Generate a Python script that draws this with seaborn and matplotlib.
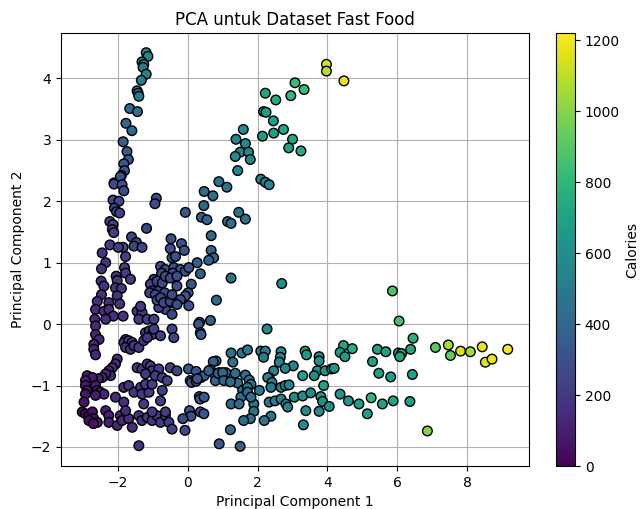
import matplotlib
matplotlib.use("Agg")
import matplotlib.pyplot as plt
import seaborn as sns
import pandas as pd
import numpy as np

# (PC1, PC2, Calories) grouped by region of the plot
arm_upper = [(-1.19,4.42,570),(-1.14,4.36,560),(-1.31,4.27,540),(-1.26,4.23,530),(-1.28,4.18,520),
    (-1.19,4.07,540),(-1.33,3.97,510),(-1.45,3.80,500),(-1.42,3.76,480),(-1.40,3.71,490),
    (-1.66,3.51,420),(-1.44,3.46,440),(-1.77,3.27,400),(-1.60,3.15,410),(-1.85,2.97,380),
    (-1.74,2.81,360),(-1.70,2.68,340),(-1.83,2.61,330),(-1.81,2.50,320),(-1.90,2.42,310),
    (-2.11,2.30,290),(-1.93,2.40,300),(-2.11,2.28,280),(-1.88,2.27,290),(-1.83,2.17,280),
    (-2.14,2.02,260),(-1.97,2.00,270),(-2.10,1.89,250),(-2.04,1.83,260),(-1.95,1.81,250),
    (-2.23,1.67,240),(-2.14,1.62,240),(-2.16,1.54,230),(-2.12,1.49,230),(-2.23,1.29,220),
    (-1.85,1.25,240),(-1.99,1.25,230),(-2.45,1.16,200),(-1.78,1.10,230),
    (-0.90,2.05,290),(-0.94,1.96,280),(-1.18,1.56,260),(-1.61,1.42,250),(-1.47,1.33,250),
    (-1.54,1.27,250),(-1.31,1.25,260)]

left_mid = [(-2.35,1.00,190),(-2.47,0.90,180),(-1.81,0.92,220),(-1.78,0.83,220),(-1.64,0.73,220),
    (-2.05,0.78,200),(-2.02,0.71,200),(-2.48,0.70,180),(-2.40,0.62,180),(-2.47,0.48,170),
    (-2.07,0.59,190),(-1.90,0.58,200),(-2.02,0.46,190),(-2.59,0.37,160),(-2.26,0.35,170),
    (-1.95,0.33,190),(-2.64,0.24,150),(-2.40,0.21,160),(-2.26,0.24,170),(-2.13,0.13,170),
    (-2.35,0.08,160),(-2.66,0.08,140),(-1.85,0.13,190),(-2.64,-0.03,140),(-2.64,-0.17,140),
    (-2.54,-0.25,140),(-2.69,-0.33,130),(-2.69,-0.41,130),(-2.64,-0.50,130),(-1.78,-0.25,180),
    (-1.83,-0.30,170),(-1.69,-0.27,180),(-1.59,-0.30,190),(-1.78,-0.38,170),(-1.64,-0.41,180),
    (-1.54,-0.35,190),(-1.40,-0.38,200),(-1.26,-0.27,200),(-1.21,-0.14,210),(-1.10,-0.11,210),
    (-1.02,-0.17,210),(-0.97,-0.08,220),(-1.16,-0.22,200),(-0.78,-0.19,230),(-0.45,-0.08,250),
    (-0.40,-0.22,250),(-2.02,-0.57,160),(-2.07,-0.65,150),(-2.16,-0.71,150),(-2.26,-0.76,140),
    (-2.21,-0.84,140),(-2.35,-0.81,130),(-2.45,-0.87,120),(-2.56,-0.89,110),(-2.88,-0.84,90),
    (-2.73,-0.87,100),(-2.93,-0.92,90),(-1.45,0.21,210),(-1.31,0.19,210),(-1.40,0.08,210),
    (-1.16,0.08,220),(-0.97,0.08,230),(-1.35,0.29,210),(-0.64,0.24,250),(-0.83,0.27,240),
    (-0.45,0.16,260)]

blue_cluster = [(-0.48,1.39,300),(-0.18,1.31,320),(-0.50,1.23,300),(-0.10,1.20,320),(-0.45,1.08,300),
    (-0.35,1.10,300),(-0.07,1.82,330),(0.39,1.74,380),(0.55,1.70,390),(0.46,1.93,400),
    (0.47,2.16,420),(0.72,2.09,430),(0.89,2.32,470),(1.12,2.23,470),(0.67,1.44,400),
    (0.67,1.20,400),(0.74,1.08,400),(0.60,1.04,390),(0.27,1.00,360),(-0.78,0.94,270),
    (-0.64,0.89,280),(-0.40,0.92,290),(-0.21,0.89,300),(-0.07,0.86,310),(0.03,0.92,320),
    (-0.75,0.83,270),(-0.43,0.83,290),(0.36,0.82,350),(-0.97,0.73,250),(-1.07,0.65,250),
    (-0.88,0.70,260),(-1.02,0.54,250),(-0.83,0.54,260),(-0.73,0.67,270),(-0.64,0.78,280),
    (-0.50,0.75,280),(-0.31,0.78,290),(-0.31,0.62,290),(0.10,0.65,320),(-1.09,0.51,240),
    (-0.66,0.51,270),(-0.93,0.48,260),(0.01,0.51,310),(-0.07,0.46,310),(-0.88,0.39,260),
    (-0.45,0.35,280),(-0.21,0.40,290),(0.82,0.39,420),(0.03,0.30,300),(-0.78,0.43,260),
    (-0.69,0.35,260),(-0.50,0.37,270),(-0.31,0.32,280),(-0.45,0.48,270),(0.34,0.03,330),
    (0.65,0.06,360),(0.31,0.00,330),(0.36,-0.14,340),
    (1.46,1.82,460),(1.65,1.71,470),(1.14,1.67,440),(1.24,1.64,440),(1.24,0.75,450),
    (2.69,0.66,620),(2.09,2.36,540),(2.22,2.31,550),(2.33,2.27,560)]

branch = [(3.97,4.23,1150),(3.97,4.12,1080),(4.47,3.96,1180),(3.07,3.93,820),(3.33,3.82,830),
    (2.22,3.76,720),(2.95,3.72,800),(2.52,3.65,740),(2.17,3.46,670),(2.24,3.45,680),
    (2.45,3.31,690),(1.59,3.17,590),(2.74,3.17,720),(2.46,3.11,700),(2.14,3.06,660),
    (1.38,3.01,570),(3.00,3.01,720),(1.65,2.94,580),(2.89,2.87,700),(3.24,2.82,740),
    (1.50,2.80,570),(1.74,2.80,580),(1.36,2.73,560),(1.79,2.68,570),(1.43,2.50,560)]

band = [(2.27,-0.08,580),(1.24,-0.47,470),(1.55,-0.47,480),(1.71,-0.42,490),(2.09,-0.44,520),
    (2.22,-0.44,530),(2.17,-0.54,520),(2.67,-0.45,590),(2.65,-0.54,570),(3.36,-0.44,680),
    (3.40,-0.50,660),(3.76,-0.53,640),(3.76,-0.60,620),(4.46,-0.35,720),(4.71,-0.40,760),
    (4.36,-0.46,650),(4.50,-0.53,660),(5.29,-0.61,700),(1.29,-0.62,460),(2.62,-0.62,540),
    (3.02,-0.68,560),(2.79,-0.72,560),(2.46,-0.76,540),(3.71,-0.76,640),(3.93,-0.76,620),
    (4.12,-0.73,640),(4.19,-0.72,650),(3.29,-0.84,690),(3.62,-0.84,590),(2.33,-0.87,520),
    (3.89,-1.00,680),(1.09,-0.79,420),(0.90,-0.79,400),(1.36,-0.80,440),(1.65,-0.83,460),
    (1.76,-0.91,470),(1.43,-0.96,450),(1.81,-0.98,470),(2.05,-1.08,500),(2.29,-0.87,510),
    (2.41,-0.95,510),(2.38,-1.03,500),(2.67,-1.03,530),(2.79,-1.00,540),(2.90,-0.99,540),
    (3.05,-1.19,590),(3.29,-1.17,600),(3.52,-1.12,580),(3.81,-1.18,640),(3.86,-1.26,610),
    (4.05,-1.34,620),(3.76,-1.42,600),(3.38,-1.41,580),(3.31,-1.64,580),(4.36,-1.14,650),
    (4.60,-1.25,660),(4.90,-1.30,680),(5.14,-1.46,690),(5.25,-1.20,800),(1.57,-1.08,460),
    (1.67,-1.14,460),(1.52,-1.19,450),(1.24,-1.30,420),(1.47,-1.30,440),(1.89,-1.30,470),
    (2.33,-1.27,500),(2.50,-1.25,510),(2.67,-1.22,520),(2.81,-1.30,530),(2.86,-1.35,530),
    (1.89,-1.42,460),(1.79,-1.54,450),(1.60,-1.57,440),(2.38,-1.50,480),(2.19,-1.57,470),
    (1.22,-1.72,400),(0.90,-1.95,330),(1.50,-1.99,380),(0.81,-0.60,400),(0.38,-0.17,340),
    (0.73,-0.61,380),(0.02,-0.73,320),(0.24,-0.77,330),(0.07,-0.92,310),(0.11,-0.95,310),
    (0.24,-0.93,330),(0.38,-0.87,340),(0.47,-0.84,350),(0.65,-0.74,370),(0.76,-0.81,380),
    (0.79,-0.92,380),(0.87,-0.80,390),(1.00,-0.79,400),(1.03,-0.92,400),(1.22,-0.94,420),
    (0.33,-1.18,330),(0.35,-1.22,340),(0.47,-1.19,350),(0.05,-1.41,300),(0.09,-1.50,300),
    (0.36,-1.43,320),(0.46,-1.46,330),(-0.14,-1.54,270),(-0.08,-1.73,270),(1.71,-1.03,470),
    (1.71,-1.11,460),(1.81,-1.19,460),(0.60,-0.76,360),(0.27,-0.89,330)]

right_group = [(5.86,0.54,880),(6.05,0.05,860),(6.45,-0.23,780),(5.43,-0.41,690),(5.67,-0.45,700),
    (6.03,-0.47,720),(6.12,-0.48,720),(6.07,-0.53,710),(6.38,-0.41,730),(7.09,-0.38,900),
    (7.46,-0.34,1060),(7.52,-0.51,930),(7.81,-0.44,1150),(8.09,-0.45,1050),(8.43,-0.37,1180),
    (8.52,-0.62,1170),(8.71,-0.57,1190),(9.16,-0.41,1220),(5.47,-0.80,680),(5.81,-0.86,690),
    (6.43,-0.82,700),(5.57,-1.30,690),(5.88,-1.25,720),(6.36,-1.26,700),(6.86,-1.74,1000)]

low_left = [(-2.93,-1.00,80),(-2.88,-1.08,80),(-2.64,-1.00,100),(-2.59,-1.08,100),(-2.50,-1.11,110),
    (-2.40,-1.14,120),(-2.64,-1.16,90),(-2.93,-1.14,70),(-2.97,-1.27,60),(-2.07,-1.19,150),
    (-1.83,-1.03,170),(-1.69,-1.00,180),(-1.54,-1.11,190),(-1.35,-1.03,200),(-1.31,-1.14,200),
    (-1.11,-1.11,210),(-1.21,-0.98,210),(-1.02,-0.98,220),(-1.83,-1.27,170),(-1.26,-1.30,200),
    (-0.78,-1.25,230),(-0.73,-1.08,240),(-3.02,-1.43,40),(-2.93,-1.46,40),(-2.83,-1.49,50),
    (-2.73,-1.43,60),(-2.69,-1.54,70),(-2.83,-1.57,50),(-2.59,-1.60,80),(-2.35,-1.41,100),
    (-2.26,-1.49,110),(-2.26,-1.60,110),(-1.93,-1.49,140),(-2.02,-1.65,130),(-1.88,-1.57,140),
    (-1.69,-1.54,160),(-1.59,-1.68,160),(-1.78,-1.41,150),(-1.40,-1.49,180),(-1.31,-1.57,180),
    (-1.16,-1.52,190),(-1.02,-1.57,200),(-0.88,-1.49,210),(-0.78,-1.60,210),(-0.64,-1.49,220),
    (-0.54,-1.60,220),(-0.45,-1.71,230),(-0.64,-1.43,220),(-1.02,-1.43,200),(-1.40,-1.98,190),
    (-2.70,-1.62,60),(-1.45,-0.71,200),(-1.31,-0.73,200),(-1.16,-0.65,210),(-1.07,-0.68,210),
    (-1.02,-0.76,210),(-0.83,-0.73,220),(-1.21,-0.81,200),(-0.93,-0.84,220),(-0.73,-0.87,230),
    (-0.50,-0.71,240),(-0.31,-0.76,250),(-0.59,-0.92,240)]

rows = arm_upper + left_mid + blue_cluster + branch + band + right_group + low_left
df = pd.DataFrame(rows, columns=["PC1", "PC2", "Calories"])

vmin, vmax = 0, 1220

fig = plt.figure(figsize=(6.4, 5.09), dpi=100)
ax = fig.add_axes([61/640, 43/509, 468/640, 433/509])
cax = fig.add_axes([556/640, 43/509, 19/640, 433/509])

sns.scatterplot(data=df, x="PC1", y="PC2", hue="Calories", palette="viridis",
                hue_norm=(vmin, vmax), edgecolor="black", linewidth=1, s=48,
                alpha=1, legend=False, ax=ax)

ax.set_title("PCA untuk Dataset Fast Food", fontsize=12)
ax.set_xlabel("Principal Component 1")
ax.set_ylabel("Principal Component 2")
ax.set_axisbelow(True)
ax.grid(True)

sm = plt.cm.ScalarMappable(cmap="viridis", norm=plt.Normalize(vmin, vmax))
sm.set_array([])
cb = fig.colorbar(sm, cax=cax)
cb.set_label("Calories")

fig.savefig("out.png", dpi=100)
